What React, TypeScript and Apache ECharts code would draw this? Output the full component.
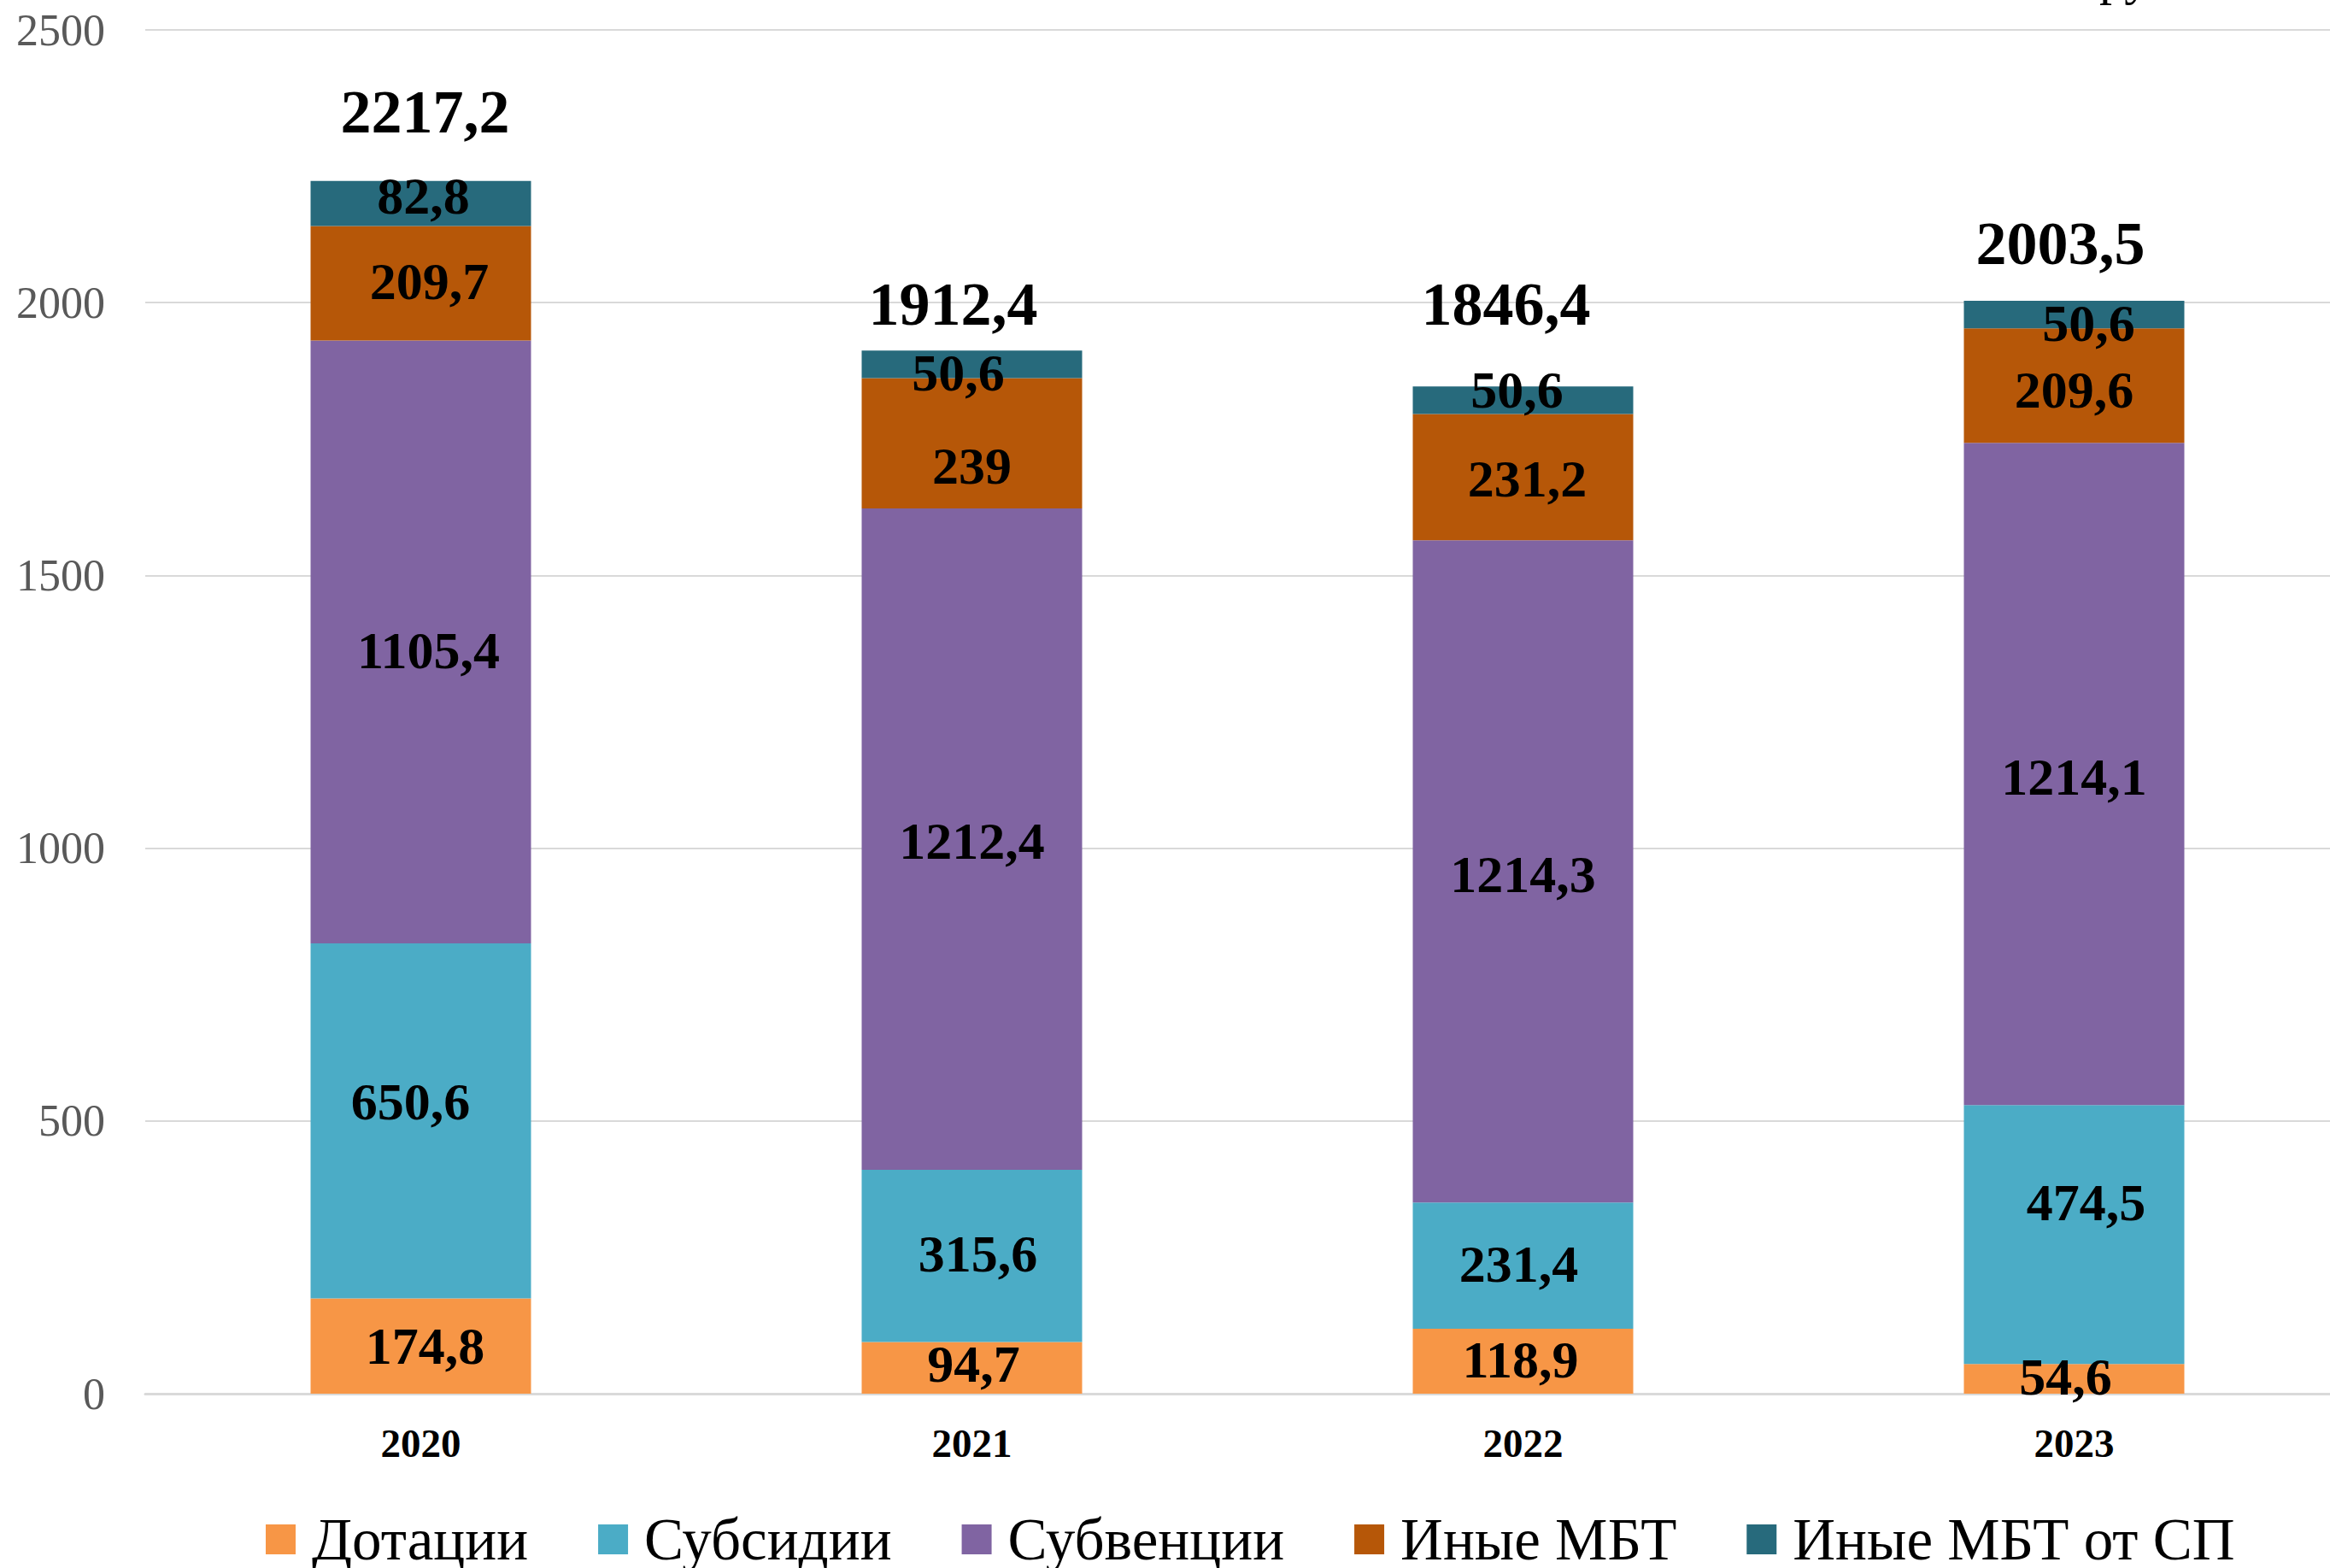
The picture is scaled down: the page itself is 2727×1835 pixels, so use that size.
import React, { useEffect, useRef } from "react";
import * as echarts from "echarts";

const years = ["2020", "2021", "2022", "2023"];
const dotacii = [174.8, 94.7, 118.9, 54.6];
const subsidii = [650.6, 315.6, 231.4, 474.5];
const subvencii = [1105.4, 1212.4, 1214.3, 1214.1];
const inyeMbt = [209.7, 239, 231.2, 209.6];
const inyeMbtSp = [82.8, 50.6, 50.6, 50.6];
const totals = [2217.2, 1912.4, 1846.4, 2003.5];
const yTicks = [0, 500, 1000, 1500, 2000, 2500];

const seriesNames = ["Дотации", "Субсидии", "Субвенции", "Иные МБТ", "Иные МБТ от СП"];
const seriesColors = ["#F79646", "#4BACC6", "#8064A2", "#B65708", "#276A7C"];

// label nudges (px) per series, per year
const labelNudges = [
  [[5, 0], [2, -5], [-3, -2], [-10, -3]],
  [[-12, -23], [7, -3], [-5, -2], [14, -38]],
  [[9, 10], [0, 2], [0, 3], [0, 3]],
  [[10, -2], [0, 26], [5, 2], [0, 5]],
  [[3, -9], [-16, 10], [-7, -12], [17, 10]],
];
const totalNudges = [[5, -85], [-22, -54], [-20, -96], [-16, -67]];

const FONT = "'Liberation Serif', 'Times New Roman', serif";
const fmt = (v: number) => String(v).replace(".", ",");

export default function App() {
  const ref = useRef<HTMLDivElement>(null);
  useEffect(() => {
    if (!ref.current) return;
    const chart = echarts.init(ref.current, undefined, { renderer: "svg" });
    const seriesData = [dotacii, subsidii, subvencii, inyeMbt, inyeMbtSp];
    const barSeries = seriesData.map((arr, si) => ({
      name: seriesNames[si],
      type: "bar",
      stack: "total",
      barWidth: "40%",
      itemStyle: { color: seriesColors[si] },
      label: {
        show: true,
        position: "inside",
        fontFamily: FONT,
        fontWeight: "bold",
        fontSize: 62,
        color: "#000",
        formatter: (p: any) => fmt(p.value),
      },
      data: arr.map((v, i) => ({ value: v, label: { offset: labelNudges[si][i] } })),
    }));
    chart.setOption({
      animation: false,
      backgroundColor: "#fff",
      grid: { left: 170, right: 0, top: 35, bottom: 204 },
      legend: {
        data: seriesNames,
        left: 306,
        top: 1762,
        icon: "rect",
        itemWidth: 35,
        itemHeight: 35,
        itemGap: 82,
        textStyle: { fontFamily: FONT, fontSize: 69, color: "#000", padding: [0, 0, 0, 14] },
      },
      xAxis: {
        type: "category",
        data: years,
        axisLine: { show: true, lineStyle: { color: "#D9D9D9", width: 3 } },
        axisTick: { show: false },
        axisLabel: {
          fontFamily: FONT,
          fontWeight: "bold",
          fontSize: 47,
          color: "#000",
          margin: 34,
        },
      },
      yAxis: {
        type: "value",
        min: yTicks[0],
        max: yTicks[yTicks.length - 1],
        interval: 500,
        axisLine: { show: false },
        axisTick: { show: false },
        splitLine: { lineStyle: { color: "#D9D9D9", width: 2 } },
        axisLabel: {
          fontFamily: FONT,
          fontSize: 52,
          color: "#595959",
          margin: 47,
          formatter: (v: number) => String(v),
        },
      },
      graphic: [
        {
          type: "text",
          left: 2342,
          top: -57,
          style: { text: "млн руб.", font: `60px ${FONT}`, fill: "#000" },
        },
      ],
      series: [
        ...barSeries,
        {
          name: "Итого",
          type: "scatter",
          symbolSize: 1,
          itemStyle: { color: "transparent", opacity: 1 },
          label: {
            show: true,
            position: "inside",
            fontFamily: FONT,
            fontWeight: "bold",
            fontSize: 72,
            color: "#000",
            opacity: 1,
            formatter: (p: any) => fmt(p.value),
          },
          data: totals.map((v, i) => ({ value: v, label: { offset: totalNudges[i] } })),
          z: 10,
        },
      ],
    });
    return () => chart.dispose();
  }, []);
  return (
    <div
      style={{
        position: "absolute",
        left: 0,
        top: 0,
        width: 2727,
        height: 1835,
        overflow: "hidden",
      }}
    >
      <div ref={ref} style={{ width: 2750, height: 1835 }} />
    </div>
  );
}
